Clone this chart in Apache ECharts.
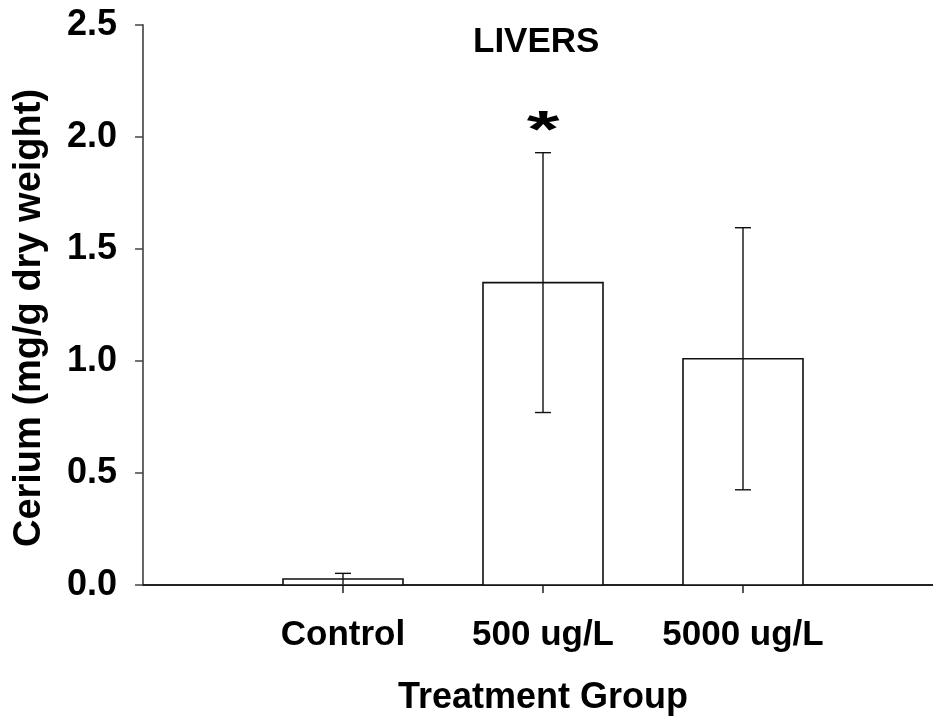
<!DOCTYPE html>
<html>
<head>
<meta charset="utf-8">
<script src="https://cdn.jsdelivr.net/npm/echarts@6/dist/echarts.min.js"></script>
<style>
  html, body { margin: 0; padding: 0; background: #fff; overflow: hidden; }
  #chart { width: 933px; height: 718px; }
</style>
</head>
<body>
<div id="chart"></div>
<script>
// Treatment groups and cerium content in livers (mg/g dry weight)
const categories = ['Control', '500 ug/L', '5000 ug/L'];
const means = [0.027, 1.35, 1.01];
const errors = [0.025, 0.58, 0.585];
const significance = ['', '*', ''];
const yTicks = [0, 0.5, 1.0, 1.5, 2.0, 2.5];

// Axis slots: an empty slot at the origin and one past the last group
const axisSlots = [''].concat(categories, ['']);
const FONT = '"Liberation Sans", Arial, sans-serif';

const barData = means.map((m, i) => [i + 1, m]);
const errData = means.map((m, i) => [i + 1, m, errors[i], significance[i]]);

const chart = echarts.init(document.getElementById('chart'));
chart.setOption({
  animation: false,
  backgroundColor: '#fff',
  title: {
    text: 'LIVERS',
    left: 468,
    top: 20,
    textStyle: { fontFamily: FONT, fontWeight: 'bold', fontSize: 35, color: '#000' }
  },
  graphic: [{
    type: 'text',
    x: 30,
    y: 318,
    rotation: Math.PI / 2,
    style: {
      text: 'Cerium (mg/g dry weight)',
      align: 'center',
      verticalAlign: 'middle',
      font: 'bold 38px ' + FONT,
      fill: '#000'
    }
  }],
  grid: {
    left: 143, top: 25, right: -10, bottom: 133,
    containLabel: false,
    outerBoundsMode: 'none'
  },
  xAxis: {
    type: 'category',
    data: axisSlots,
    boundaryGap: false,
    name: 'Treatment Group',
    nameLocation: 'middle',
    nameGap: 95,
    nameTextStyle: { fontFamily: FONT, fontWeight: 'bold', fontSize: 36, color: '#000' },
    axisLine: { lineStyle: { color: '#222', width: 2 } },
    axisTick: {
      alignWithLabel: true,
      length: 8,
      interval: (i) => i >= 1 && i <= categories.length,
      lineStyle: { color: '#222', width: 1.5 }
    },
    axisLabel: {
      interval: 0,
      margin: 33,
      fontFamily: FONT, fontWeight: 'bold', fontSize: 35, color: '#000'
    },
    splitLine: { show: false }
  },
  yAxis: {
    type: 'value',
    min: yTicks[0],
    max: yTicks[yTicks.length - 1],
    interval: 0.5,
    axisLine: { show: true, lineStyle: { color: '#666', width: 2 } },
    axisTick: { show: true, length: 8, lineStyle: { color: '#444', width: 1.5 } },
    axisLabel: {
      margin: 26,
      formatter: (v) => v.toFixed(1),
      fontFamily: FONT, fontWeight: 'bold', fontSize: 36, color: '#000'
    },
    splitLine: { show: false }
  },
  series: [
    {
      name: 'mean',
      type: 'custom',
      data: barData,
      encode: { x: 0, y: 1 },
      renderItem: (params, api) => {
        const x = api.value(0);
        const v = api.value(1);
        const band = api.size([1, 0])[0];
        const half = band * 0.3;
        const top = api.coord([x, v]);
        const base = api.coord([x, 0]);
        return {
          type: 'rect',
          shape: { x: top[0] - half, y: top[1], width: half * 2, height: base[1] - top[1] },
          style: { fill: '#fff', stroke: '#111', lineWidth: 1.6 }
        };
      },
      z: 2
    },
    {
      name: 'error',
      type: 'custom',
      data: errData,
      encode: { x: 0, y: 1 },
      renderItem: (params, api) => {
        const x = api.value(0);
        const m = api.value(1);
        const e = api.value(2);
        const mark = errData[params.dataIndex][3];
        const band = api.size([1, 0])[0];
        const cap = band * 0.04;
        const hi = api.coord([x, m + e]);
        const lo = api.coord([x, Math.max(m - e, 0)]);
        const line = { stroke: '#111', lineWidth: 1.4 };
        const children = [
          { type: 'line', shape: { x1: hi[0], y1: hi[1], x2: lo[0], y2: lo[1] }, style: line },
          { type: 'line', shape: { x1: hi[0] - cap, y1: hi[1], x2: hi[0] + cap, y2: hi[1] }, style: line }
        ];
        if (m - e > 0.01) {
          children.push({ type: 'line', shape: { x1: lo[0] - cap, y1: lo[1], x2: lo[0] + cap, y2: lo[1] }, style: line });
        }
        if (mark) {
          // significance marker above the upper cap
          children.push({
            type: 'text',
            x: hi[0],
            y: hi[1] + 6,
            scaleX: 1.4,
            scaleY: 0.85,
            style: {
              text: mark, x: 0, y: 0,
              align: 'center', verticalAlign: 'bottom',
              font: 'bold 60px ' + FONT, fill: '#000'
            }
          });
        }
        return { type: 'group', children: children };
      },
      z: 3
    }
  ]
});
</script>
</body>
</html>
